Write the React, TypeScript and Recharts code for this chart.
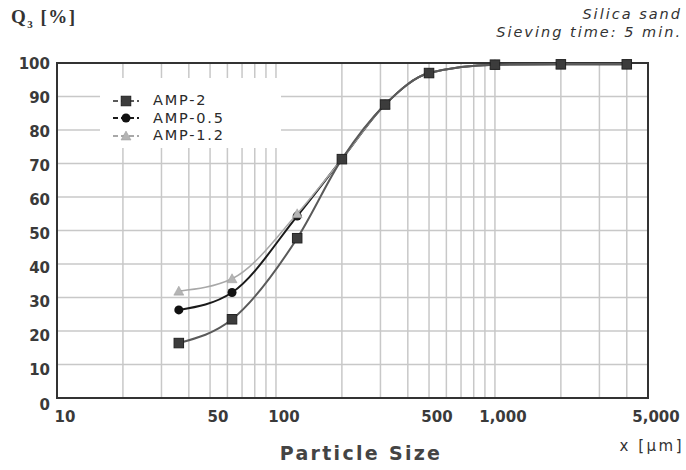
import React from "react";
import {
  CartesianGrid,
  Legend,
  Line,
  LineChart,
  ReferenceArea,
  XAxis,
  YAxis,
} from "recharts";

// sieve sizes in µm and cumulative passing Q3 in %
const particleSizes = [36, 63, 125, 200, 315, 500, 1000, 2000, 4000];
const amp2 = [16.4, 23.5, 47.7, 71.3, 87.6, 97.0, 99.5, 99.6, 99.6];
const amp05 = [26.3, 31.5, 54.3, 71.3, 87.6, 97.0, 99.5, 99.6, 99.6];
const amp12 = [31.9, 35.6, 55.0, 71.3, 87.6, 97.0, 99.5, 99.6, 99.6];

const xLabelTicks = [10, 50, 100, 500, 1000, 5000];
const xGridTicks = [
  10, 20, 30, 40, 50, 60, 70, 80, 90, 100, 200, 300, 400, 500, 600, 700, 800,
  900, 1000, 2000, 3000, 4000, 5000,
];
const yTicks = [0, 10, 20, 30, 40, 50, 60, 70, 80, 90, 100];
const legendOrder = ["amp2", "amp05", "amp12"];

const data = particleSizes.map((size, i) => ({
  size,
  amp2: amp2[i],
  amp05: amp05[i],
  amp12: amp12[i],
}));

const tickFont = "'DejaVu Sans', Verdana, sans-serif";

function Square({ cx, cy, size = 9.5 }: any) {
  return (
    <rect
      x={cx - size / 2}
      y={cy - size / 2}
      width={size}
      height={size}
      fill="#3c3c3c"
      stroke="#222"
      strokeWidth={1}
    />
  );
}

function Circle({ cx, cy }: any) {
  return <circle cx={cx} cy={cy} r={4.5} fill="#111" />;
}

function Triangle({ cx, cy }: any) {
  const s = 5;
  return (
    <polygon
      points={`${cx},${cy - s} ${cx - s},${cy + s * 0.8} ${cx + s},${cy + s * 0.8}`}
      fill="#b4b4b4"
      stroke="#9a9a9a"
      strokeWidth={0.5}
    />
  );
}

const markers: Record<string, (p: any) => React.ReactElement> = {
  amp2: (p) => <Square {...p} />,
  amp05: (p) => <Circle {...p} />,
  amp12: (p) => <Triangle {...p} />,
};

function XTick({ x, y, payload }: any) {
  if (!xLabelTicks.includes(payload.value)) return <g />;
  return (
    <text
      x={x + 8}
      y={y + 16}
      textAnchor="middle"
      fontFamily={tickFont}
      fontSize={15}
      fontWeight={600}
      fill="#3a3a3a"
    >
      {payload.value.toLocaleString("en-US")}
    </text>
  );
}

function YTick({ x, y, payload }: any) {
  const dy = 6 + 0.055 * (100 - payload.value);
  return (
    <text
      x={x + 1}
      y={y + dy}
      textAnchor="end"
      fontFamily={tickFont}
      fontSize={15}
      fontWeight={600}
      fill="#3a3a3a"
    >
      {payload.value}
    </text>
  );
}

function LegendBox({ payload }: any) {
  const items = [...(payload || [])].sort(
    (a: any, b: any) =>
      legendOrder.indexOf(a.dataKey) - legendOrder.indexOf(b.dataKey)
  );
  return (
    <div
      style={{
        background: "#fff",
        width: 181,
        height: 70,
        paddingTop: 14,
        boxSizing: "border-box",
      }}
    >
      {items.map((item: any) => (
        <div
          key={item.dataKey}
          style={{ display: "flex", alignItems: "center", height: 17.5 }}
        >
          <svg width={30} height={12} style={{ marginLeft: 11 }}>
            <line
              x1={2}
              x2={28}
              y1={6}
              y2={6}
              stroke={item.color}
              strokeWidth={2}
              strokeDasharray="5 3"
            />
            {markers[item.dataKey]({ cx: 15, cy: 6 })}
          </svg>
          <span
            style={{
              marginLeft: 12,
              fontFamily: tickFont,
              fontSize: 14.5,
              letterSpacing: 1.8,
              color: "#2a2a2a",
              lineHeight: "17px",
            }}
          >
            {item.value}
          </span>
        </div>
      ))}
    </div>
  );
}

export default function App() {
  return (
    <div
      style={{
        position: "absolute",
        left: 0,
        top: 0,
        width: 686,
        height: 470,
        background: "#fff",
      }}
    >
      <LineChart
        width={686}
        height={470}
        data={data}
        margin={{ top: 63, right: 38, left: 0, bottom: 42 }}
      >
        <CartesianGrid stroke="#c8c8c8" strokeWidth={1.5} />
        <XAxis
          dataKey="size"
          type="number"
          scale="log"
          domain={[10, 5000]}
          ticks={xGridTicks}
          interval={0}
          allowDataOverflow
          axisLine={false}
          tickLine={false}
          tick={<XTick />}
          height={30}
        />
        <YAxis
          type="number"
          domain={[0, 100]}
          ticks={yTicks}
          interval={0}
          axisLine={false}
          tickLine={false}
          tick={<YTick />}
          width={57}
        />
        <ReferenceArea
          x1={10}
          x2={5000}
          y1={0}
          y2={100}
          fill="none"
          fillOpacity={0}
          stroke="#333"
          strokeWidth={2}
          ifOverflow="visible"
        />
        <Legend
          layout="vertical"
          align="center"
          verticalAlign="middle"
          content={<LegendBox />}
          wrapperStyle={{ left: 100, top: 78, width: 181, height: 70 }}
        />
        <Line
          name="AMP-0.5"
          dataKey="amp05"
          type="monotone"
          stroke="#1a1a1a"
          strokeWidth={2}
          dot={(p: any) => <Circle key={`c${p.index}`} {...p} />}
          activeDot={false}
          isAnimationActive={false}
        />
        <Line
          name="AMP-1.2"
          dataKey="amp12"
          type="monotone"
          stroke="#a8a8a8"
          strokeWidth={1.5}
          dot={(p: any) => <Triangle key={`t${p.index}`} {...p} />}
          activeDot={false}
          isAnimationActive={false}
        />
        <Line
          name="AMP-2"
          dataKey="amp2"
          type="monotone"
          stroke="#5a5a5a"
          strokeWidth={2}
          dot={(p: any) => <Square key={`s${p.index}`} {...p} />}
          activeDot={false}
          isAnimationActive={false}
        />
      </LineChart>

      <div
        style={{
          position: "absolute",
          left: 11,
          top: 6,
          fontFamily: "'Liberation Serif', serif",
          fontWeight: 700,
          fontSize: 19,
          letterSpacing: 1.5,
          color: "#333",
        }}
      >
        Q<sub style={{ fontSize: 11 }}>3</sub> [%]
      </div>
      <div
        style={{
          position: "absolute",
          right: 4,
          top: 5,
          textAlign: "right",
          fontFamily: tickFont,
          fontStyle: "italic",
          fontSize: 14.5,
          letterSpacing: 2,
          lineHeight: "18px",
          color: "#333",
        }}
      >
        Silica sand
        <br />
        Sieving time: 5 min.
      </div>
      <div
        style={{
          position: "absolute",
          right: 2,
          top: 437,
          fontFamily: tickFont,
          fontSize: 15,
          letterSpacing: 2.5,
          color: "#333",
        }}
      >
        x [µm]
      </div>
      <div
        style={{
          position: "absolute",
          left: 0,
          width: 686,
          top: 442,
          textAlign: "center",
          fontFamily: tickFont,
          fontWeight: 700,
          fontSize: 19,
          letterSpacing: 2.3,
          color: "#444",
          paddingLeft: 36,
          boxSizing: "border-box",
        }}
      >
        Particle Size
      </div>
    </div>
  );
}
